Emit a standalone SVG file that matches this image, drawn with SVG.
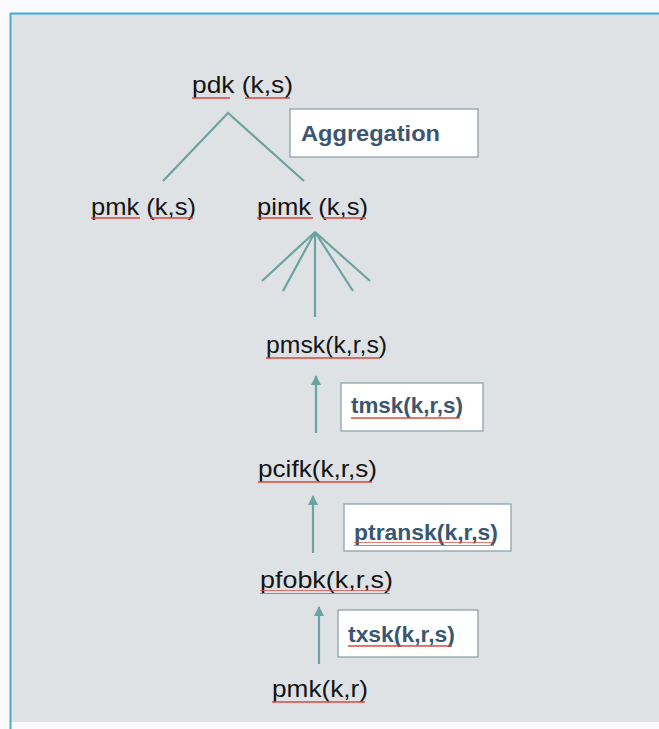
<svg xmlns="http://www.w3.org/2000/svg" width="659" height="729" viewBox="0 0 659 729">
  <defs>
    <style>
      .lbl { font-family: "Liberation Sans", Arial, sans-serif; font-size: 24px; fill: #141414; }
      .tag { font-family: "Liberation Sans", Arial, sans-serif; font-size: 22px; font-weight: bold; fill: #3b5670; }
      .box { fill: #ffffff; stroke: #8fa3ab; stroke-width: 1.3; }
      .edge { stroke: #6aa39f; stroke-width: 2.2; fill: none; stroke-linecap: butt; }
      .wavy { fill: url(#squiggle); }
    </style>
    <pattern id="squiggle" x="0" y="0" width="4" height="4" patternUnits="userSpaceOnUse">
      <path d="M0 3 L1 1 L2 3 L3 1 L4 3" fill="none" stroke="#d9423a" stroke-width="0.9"/>
    </pattern>
    <marker id="arrow" viewBox="0 0 10 10" refX="9" refY="5" markerWidth="4.6" markerHeight="4.6" orient="auto" markerUnits="strokeWidth">
      <path d="M0 0 L10 5 L0 10 Z" fill="#6aa39f"/>
    </marker>
  </defs>

  <!-- page background and frame -->
  <rect x="0" y="0" width="659" height="729" fill="#fbfbfd"/>
  <rect x="10" y="13" width="660" height="709" fill="#dfe2e5"/>
  <line x1="10" y1="13.5" x2="659" y2="13.5" stroke="#38abe0" stroke-width="2"/>
  <line x1="10.5" y1="13" x2="10.5" y2="729" stroke="#47aec4" stroke-width="2"/>

  <!-- connectors -->
  <g id="connectors">
    <polyline class="edge" points="163,181 228,113 304,181"/>
    <line class="edge" x1="315" y1="232" x2="262" y2="281"/>
    <line class="edge" x1="315" y1="232" x2="283" y2="291"/>
    <line class="edge" x1="315" y1="232" x2="315" y2="317"/>
    <line class="edge" x1="315" y1="232" x2="353" y2="291"/>
    <line class="edge" x1="315" y1="232" x2="370" y2="281"/>
    <line class="edge" x1="316" y1="433" x2="316" y2="376" marker-end="url(#arrow)"/>
    <line class="edge" x1="313" y1="553" x2="313" y2="496" marker-end="url(#arrow)"/>
    <line class="edge" x1="319" y1="664" x2="319" y2="607" marker-end="url(#arrow)"/>
  </g>

  <!-- nodes -->
  <g id="node-pdk">
    <text class="lbl" x="192" y="93" textLength="101" lengthAdjust="spacingAndGlyphs">pdk (k,s)</text>
    <rect class="wavy" x="192" y="95" width="38" height="4"/>
    <rect class="wavy" x="245" y="95" width="45" height="4"/>
  </g>
  <g id="tag-aggregation">
    <rect class="box" x="290" y="109" width="188" height="48"/>
    <text class="tag" x="301" y="141" textLength="139" lengthAdjust="spacingAndGlyphs">Aggregation</text>
  </g>
  <g id="node-pmk-ks">
    <text class="lbl" x="91" y="215" textLength="105" lengthAdjust="spacingAndGlyphs">pmk (k,s)</text>
    <rect class="wavy" x="91" y="217" width="49" height="4"/>
    <rect class="wavy" x="150" y="217" width="43" height="4"/>
  </g>
  <g id="node-pimk">
    <text class="lbl" x="257" y="215" textLength="111" lengthAdjust="spacingAndGlyphs">pimk (k,s)</text>
    <rect class="wavy" x="257" y="217" width="56" height="4"/>
    <rect class="wavy" x="323" y="217" width="43" height="4"/>
  </g>
  <g id="node-pmsk">
    <text class="lbl" x="266" y="353" textLength="121" lengthAdjust="spacingAndGlyphs">pmsk(k,r,s)</text>
    <rect class="wavy" x="266" y="355" width="114" height="4"/>
  </g>
  <g id="tag-tmsk">
    <rect class="box" x="341" y="383" width="142" height="48"/>
    <text class="tag" x="351" y="413" textLength="112" lengthAdjust="spacingAndGlyphs">tmsk(k,r,s)</text>
    <rect class="wavy" x="351" y="415" width="109" height="4"/>
  </g>
  <g id="node-pcifk">
    <text class="lbl" x="258" y="477" textLength="119" lengthAdjust="spacingAndGlyphs">pcifk(k,r,s)</text>
    <rect class="wavy" x="258" y="479" width="114" height="4"/>
  </g>
  <g id="tag-ptransk">
    <rect class="box" x="344" y="504" width="167" height="47"/>
    <text class="tag" x="354" y="540" textLength="144" lengthAdjust="spacingAndGlyphs">ptransk(k,r,s)</text>
    <rect class="wavy" x="354" y="542" width="140" height="4"/>
  </g>
  <g id="node-pfobk">
    <text class="lbl" x="260" y="588" textLength="133" lengthAdjust="spacingAndGlyphs">pfobk(k,r,s)</text>
    <rect class="wavy" x="260" y="590" width="130" height="4"/>
  </g>
  <g id="tag-txsk">
    <rect class="box" x="338" y="610" width="140" height="47"/>
    <text class="tag" x="348" y="642" textLength="107" lengthAdjust="spacingAndGlyphs">txsk(k,r,s)</text>
    <rect class="wavy" x="348" y="644" width="104" height="4"/>
  </g>
  <g id="node-pmk-kr">
    <text class="lbl" x="272" y="697" textLength="96" lengthAdjust="spacingAndGlyphs">pmk(k,r)</text>
    <rect class="wavy" x="272" y="699" width="93" height="4"/>
  </g>
</svg>
